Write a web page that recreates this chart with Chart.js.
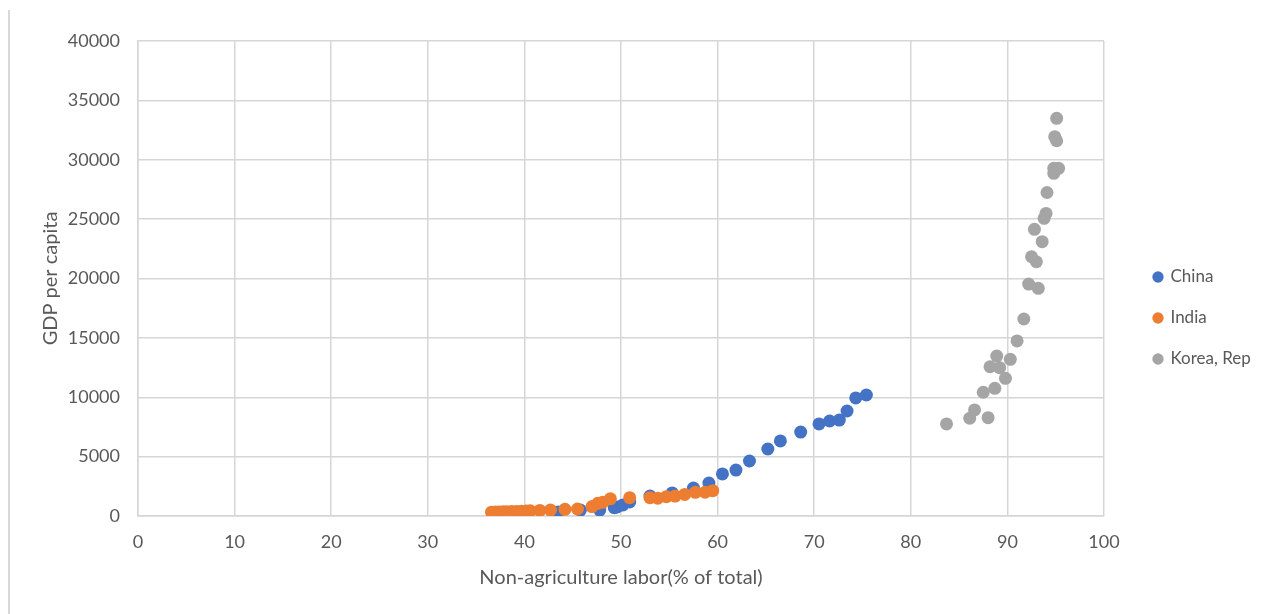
<!DOCTYPE html>
<html>
<head>
<meta charset="utf-8">
<title>GDP per capita vs non-agriculture labor</title>
<script src="https://cdn.jsdelivr.net/npm/chart.js@4.4.1/dist/chart.umd.min.js"></script>
<style>
  html, body { margin: 0; padding: 0; background: #ffffff; }
  #wrap { position: relative; width: 1273px; height: 614px; overflow: hidden; }
  #edge { position: absolute; left: 8px; top: 10px; bottom: 0; border-left: 2px solid #d9d9d9; }
  #c { position: absolute; left: 0; top: 0; }
</style>
</head>
<body>
<div id="wrap">
  <div id="edge"></div>
  <canvas id="c" width="1273" height="614"></canvas>
</div>
<script>
// Series names
const seriesNames = ['China', 'India', 'Korea, Rep'];

// China: non-agriculture labor share (%) and GDP per capita
const chinaX = [40.4, 43.5, 45.8, 47.8, 49.3, 49.6, 50.2, 50.9, 53.0, 55.3, 57.5, 59.1, 60.5, 61.9,
                63.3, 65.2, 66.5, 68.6, 70.5, 71.6, 72.6, 73.4, 74.3, 75.4];
const chinaY = [250, 340, 500, 500, 700, 760, 930, 1180, 1680, 1940, 2360, 2780, 3540, 3870,
                4630, 5640, 6320, 7070, 7750, 8000, 8080, 8840, 9940, 10190];

// India
const indiaX = [36.6, 37.0, 37.4, 37.8, 38.2, 38.7, 39.2, 39.7, 40.2, 40.6, 41.6, 42.7, 44.2, 45.5,
                47.0, 47.6, 48.1, 48.9, 50.9, 53.0, 53.8, 54.7, 55.6, 56.6, 57.7, 58.7, 59.5];
const indiaY = [320, 330, 340, 350, 360, 370, 380, 400, 420, 440, 470, 500, 560, 590,
                790, 1070, 1150, 1450, 1540, 1540, 1500, 1630, 1680, 1820, 1990, 2000, 2130];

// Korea, Rep
const koreaX = [83.7, 86.1, 86.6, 87.5, 88.0, 88.2, 88.7, 88.9, 89.2, 89.8, 90.3, 91.0, 91.7, 92.2,
                92.5, 92.8, 93.0, 93.2, 93.6, 93.8, 94.0, 94.1, 94.8, 94.8, 95.3, 94.9, 95.1, 95.1];
const koreaY = [7750, 8230, 8930, 10420, 8280, 12570, 10750, 13470, 12490, 11590, 13190, 14740, 16590, 19530,
                21830, 24140, 21410, 19170, 23100, 25070, 25480, 27240, 28860, 29280, 29280, 31940, 31600, 33490];

// Axis ranges and tick steps
const xRange = [0, 100], xStep = 10;
const yRange = [0, 40000], yStep = 5000;

const toPoints = (xs, ys) => xs.map((x, i) => ({ x: x, y: ys[i] }));

const FONT = 'Lato, "Open Sans", sans-serif';
const TEXT = '#595959';
const GRID = '#d6d6d6';
const LEGEND_SIZE = 17, LEGEND_PAD = 24, LEGEND_BOX = 8;

// Reserve room on the right so the legend sits beside the plot area
const mctx = document.createElement('canvas').getContext('2d');
mctx.font = LEGEND_SIZE + 'px ' + FONT;
const widest = Math.max(...seriesNames.map(n => mctx.measureText(n).width));
const legendWidth = LEGEND_PAD + LEGEND_BOX + LEGEND_SIZE / 2 + widest + 10;
const plotRight = 1104;
const padRight = 1273 - plotRight - legendWidth;

// Nudge the legend block away from the plot and up to the plot's middle
const legendNudge = {
  id: 'legendNudge',
  afterLayout(chart) {
    const lg = chart.legend;
    const dx = 26, dy = -9.5;
    lg.left += dx; lg.right += dx;
    lg.top += dy; lg.bottom += dy;
  }
};

const pointStyle = (color) => ({
  backgroundColor: color,
  borderColor: color,
  pointBackgroundColor: color,
  pointBorderColor: color,
  pointBorderWidth: 0,
  pointRadius: 6.5,
  pointHoverRadius: 6.5,
  pointStyle: 'circle'
});

// Plain integer tick labels, no thousands separators
const plain = (v) => String(v);

new Chart(document.getElementById('c'), {
  type: 'scatter',
  data: {
    datasets: [
      Object.assign({ label: seriesNames[0], data: toPoints(chinaX, chinaY), order: 1 }, pointStyle('#4472c4')),
      Object.assign({ label: seriesNames[1], data: toPoints(indiaX, indiaY), order: 0 }, pointStyle('#ed7d31')),
      Object.assign({ label: seriesNames[2], data: toPoints(koreaX, koreaY), order: 2 }, pointStyle('#a5a5a5'))
    ]
  },
  options: {
    responsive: false,
    devicePixelRatio: 1,
    animation: false,
    layout: { padding: { top: 41, left: 0, bottom: 0, right: padRight } },
    plugins: {
      tooltip: { enabled: false },
      legend: {
        position: 'right',
        align: 'center',
        labels: {
          usePointStyle: true,
          boxWidth: LEGEND_BOX,
          boxHeight: LEGEND_BOX,
          padding: LEGEND_PAD,
          color: TEXT,
          font: { family: FONT, size: LEGEND_SIZE },
          sort: (a, b) => a.datasetIndex - b.datasetIndex
        }
      }
    },
    scales: {
      x: {
        type: 'linear',
        position: 'bottom',
        min: xRange[0], max: xRange[1],
        afterFit(scale) { scale.height = 98; },
        ticks: { stepSize: xStep, padding: 15, color: TEXT, font: { family: FONT, size: 18 }, callback: plain },
        grid: { color: GRID, lineWidth: 1.5, drawTicks: false },
        border: { color: GRID, width: 1.5 },
        title: {
          display: true,
          text: 'Non-agriculture labor(% of total)',
          color: TEXT,
          font: { family: FONT, size: 20 },
          padding: { top: 0, bottom: 24 }
        }
      },
      y: {
        type: 'linear',
        min: yRange[0], max: yRange[1],
        afterFit(scale) { scale.width = 138; },
        ticks: { stepSize: yStep, padding: 18, color: TEXT, font: { family: FONT, size: 18 }, callback: plain },
        grid: { color: GRID, lineWidth: 1.5, drawTicks: false },
        border: { color: GRID, width: 1.5 },
        title: {
          display: true,
          text: 'GDP per capita',
          color: TEXT,
          font: { family: FONT, size: 20 },
          padding: { top: 39, bottom: 0 }
        }
      }
    }
  },
  plugins: [legendNudge]
});
</script>
</body>
</html>
